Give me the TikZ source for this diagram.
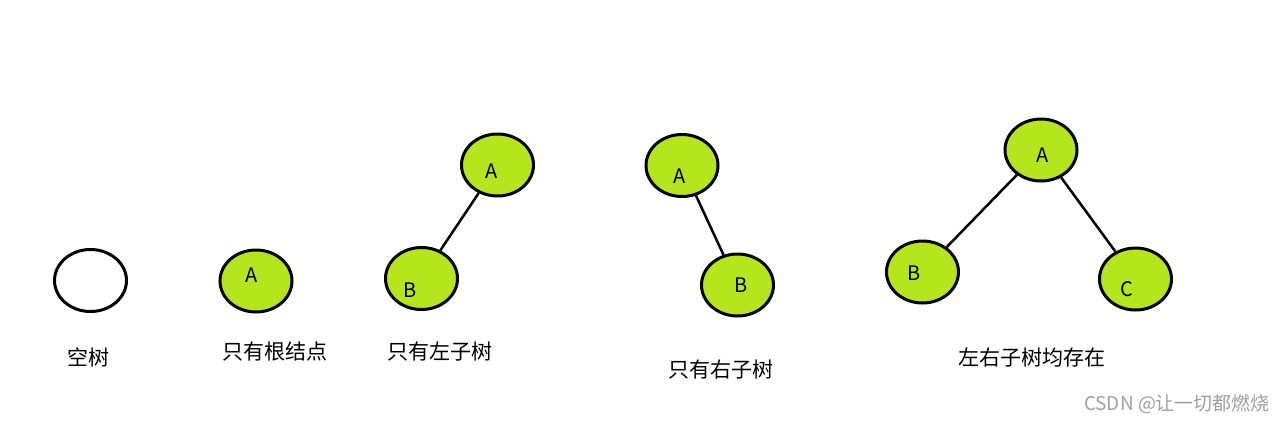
\documentclass[tikz,border=0pt]{standalone}
\usepackage{fontspec}
\setmainfont{Noto Sans CJK SC}
\usetikzlibrary{shapes.geometric}
\definecolor{lime}{HTML}{B5E51D}
\definecolor{wm}{HTML}{A0A0A0}
\tikzset{
  treenode/.style={ellipse, draw=black, line width=3bp, fill=lime, minimum width=72bp, minimum height=62bp, inner sep=0pt},
  emptynode/.style={treenode, fill=white},
  letter/.style={inner sep=0pt, font=\fontsize{20bp}{24bp}\selectfont},
  caption/.style={inner sep=0pt, font=\fontsize{21bp}{25bp}\selectfont},
  edge/.style={line width=2.5bp, draw=black}
}
\begin{document}
\begin{tikzpicture}[x=1bp,y=-1bp]
\useasboundingbox[fill=white] (0,0) rectangle (1288,423);
% empty tree
\node[emptynode] (e) at (90.5,280.5) {};
\node[caption] (c1) at (88.5,357.5) {空树};
% root only
\node[treenode] (r) at (256,281) {};
\node[letter] (rA) at (251.5,275.5) {A};
\node[caption] (c2) at (275,352) {只有根结点};
% left subtree only
\node[treenode] (lA) at (497.5,165) {};
\node[treenode] (lB) at (421.5,278.5) {};
\draw[edge] (lA) -- (lB);
\node[letter] at (491.5,171.5) {A};
\node[letter] at (410.5,290) {B};
\node[caption] (c3) at (440,351.5) {只有左子树};
% right subtree only
\node[treenode] (tA) at (682,165.5) {};
\node[treenode] (tB) at (737.5,285) {};
\draw[edge] (tA) -- (tB);
\node[letter] at (679.5,176) {A};
\node[letter] at (741.5,285) {B};
\node[caption] (c4) at (721,369.5) {只有右子树};
% both subtrees
\node[treenode] (bA) at (1041,150) {};
\node[treenode] (bB) at (922.5,272) {};
\node[treenode] (bC) at (1135.5,279) {};
\draw[edge] (bA) -- (bB);
\draw[edge] (bA) -- (bC);
\node[letter] at (1043,155.5) {A};
\node[letter] at (914,273.5) {B};
\node[letter] at (1126.5,289.5) {C};
\node[caption] (c5) at (1031.5,358) {左右子树均存在};
% watermark
\node[inner sep=0pt, text=wm, font=\fontsize{19bp}{22bp}\selectfont] (wmk) at (1177,404) {CSDN @让一切都燃烧};
\end{tikzpicture}
\end{document}
